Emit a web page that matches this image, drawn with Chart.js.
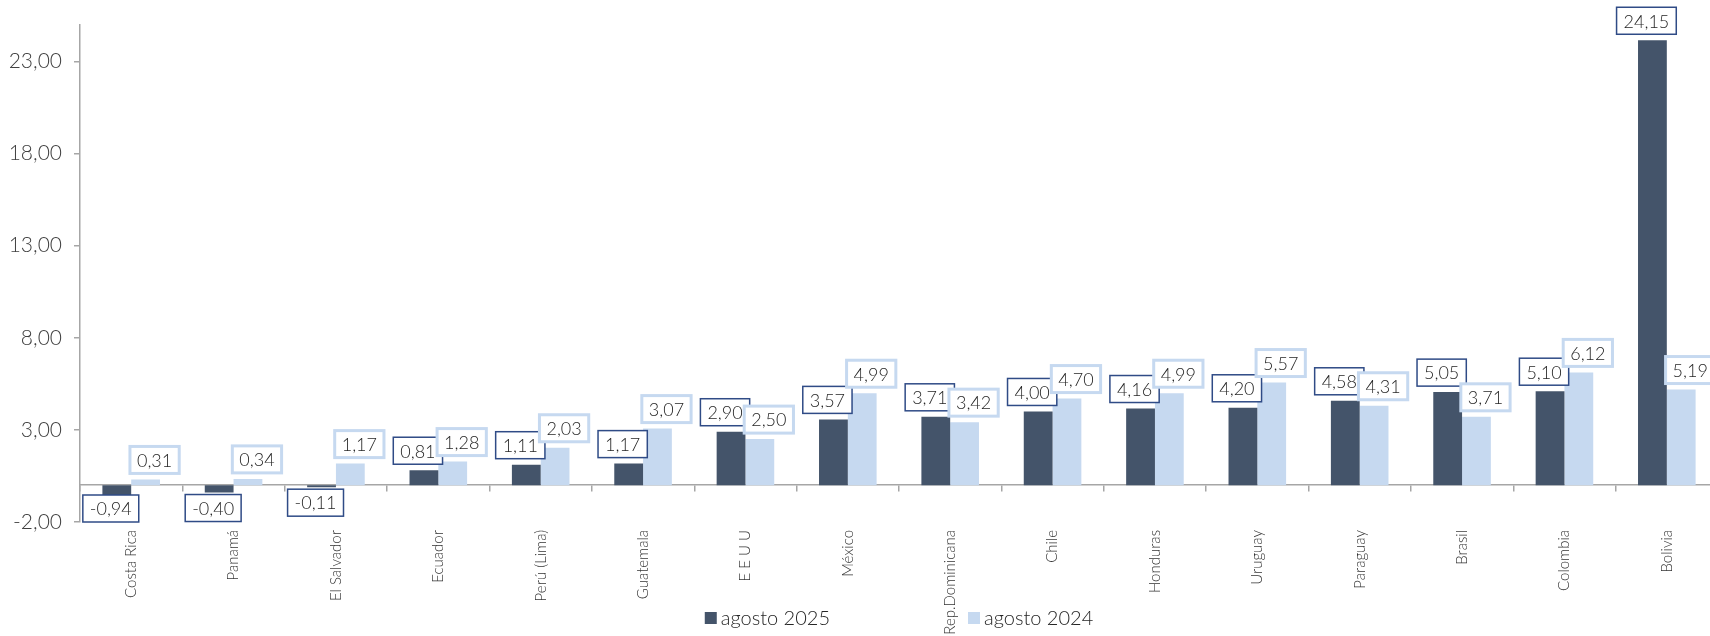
<!DOCTYPE html>
<html>
<head>
<meta charset="utf-8">
<script src="https://cdn.jsdelivr.net/npm/chart.js@4.4.1/dist/chart.umd.min.js"></script>
<style>
  html, body { margin: 0; padding: 0; background: #fff; overflow: hidden; }
  #wrap { position: relative; width: 1718px; height: 636px; }
</style>
</head>
<body>
<div id="wrap"><canvas id="inflChart"></canvas></div>
<script>
// data
const countries = ["Costa Rica", "Panamá", "El Salvador", "Ecuador", "Perú (Lima)", "Guatemala", "E E U U", "México",
  "Rep.Dominicana", "Chile", "Honduras", "Uruguay", "Paraguay", "Brasil", "Colombia", "Bolivia"];
const aug2025 = [-0.94, -0.40, -0.11, 0.81, 1.11, 1.17, 2.90, 3.57, 3.71, 4.00, 4.16, 4.20, 4.58, 5.05, 5.10, 24.15];
const aug2024 = [0.31, 0.34, 1.17, 1.28, 2.03, 3.07, 2.50, 4.99, 3.42, 4.70, 4.99, 5.57, 4.31, 3.71, 6.12, 5.19];
const yTicks = [-2, 3, 8, 13, 18, 23];

const DARK = "#44546A";
const LIGHT = "#C6D9F0";
const AXIS = "#A6A6A6";
const FONT = "Lato";
const W = 300;

const fmt = v => v.toFixed(2).replace(".", ",");

// value boxes (Excel style callouts) + legend
const labelPlugin = {
  id: "valueBoxes",
  afterDatasetsDraw(chart) {
    const { ctx, chartArea } = chart;
    const styles = [
      { dx: -6, border: "#2F4B86", lw: 1.5 },
      { dx: 9, border: "#C6D9F0", lw: 3 }
    ];
    ctx.save();
    ctx.font = W + " 18px " + FONT;
    ctx.textAlign = "center";
    ctx.textBaseline = "middle";
    chart.data.datasets.forEach((ds, di) => {
      const st = styles[di];
      chart.getDatasetMeta(di).data.forEach((bar, i) => {
        const v = ds.data[i];
        const txt = fmt(v);
        const w = ctx.measureText(txt).width + 14;
        const h = 27;
        const cx = bar.x + st.dx;
        let top;
        if (v >= 0) {
          top = bar.y - 6 - h;
          if (top < 7) top = 7;
        } else {
          top = bar.y + 2;
          if (top + h > chartArea.bottom) top = chartArea.bottom - h;
        }
        ctx.fillStyle = "#fff";
        ctx.fillRect(cx - w / 2, top, w, h);
        ctx.strokeStyle = st.border;
        ctx.lineWidth = st.lw;
        ctx.strokeRect(cx - w / 2, top, w, h);
        ctx.fillStyle = "#262626";
        ctx.fillText(txt, cx, top + h / 2 + 1);
      });
    });
    ctx.restore();
  },
  afterDraw(chart) {
    const { ctx, chartArea } = chart;
    ctx.save();
    ctx.font = W + " 20px " + FONT;
    ctx.textBaseline = "middle";
    ctx.textAlign = "left";
    const box = 12, sp = 4, gap = 138;
    const items = chart.data.datasets.map(d => ({ text: d.label, color: d.backgroundColor, tw: ctx.measureText(d.label).width }));
    const total = items.reduce((s, it) => s + box + sp + it.tw, 0) + gap * (items.length - 1);
    let x = (chartArea.left + chartArea.right) / 2 - total / 2;
    const y = 618;
    items.forEach(it => {
      ctx.fillStyle = it.color;
      ctx.fillRect(x, y - box / 2, box, box);
      ctx.fillStyle = "#262626";
      ctx.fillText(it.text, x + box + sp, y + 1);
      x += box + sp + it.tw + gap;
    });
    ctx.restore();
  }
};

new Chart(document.getElementById("inflChart"), {
  type: "bar",
  data: {
    labels: countries,
    datasets: [
      { label: "agosto 2025", data: aug2025, backgroundColor: DARK },
      { label: "agosto 2024", data: aug2024, backgroundColor: LIGHT }
    ]
  },
  options: {
    responsive: true,
    maintainAspectRatio: false,
    animation: false,
    categoryPercentage: 0.5625,
    barPercentage: 1,
    layout: { padding: { top: 17, left: 0, right: 0, bottom: 0 } },
    plugins: {
      legend: { display: false },
      tooltip: { enabled: false }
    },
    scales: {
      x: {
        type: "category",
        position: "bottom",
        grid: { display: false, drawTicks: false },
        border: { display: false },
        ticks: {
          autoSkip: false,
          maxRotation: 90,
          minRotation: 90,
          padding: 8,
          color: "#333333",
          font: { family: FONT, size: 15, weight: W }
        },
        afterFit: s => { s.height = 114; }
      },
      xz: {
        type: "category",
        position: { y: 0 },
        offset: true,
        ticks: { display: false },
        grid: { offset: true, drawOnChartArea: false, tickLength: 6, color: AXIS, lineWidth: 1.5 },
        border: { color: AXIS, width: 1.5 }
      },
      y: {
        min: -2,
        max: 25,
        afterBuildTicks: s => { s.ticks = yTicks.map(v => ({ value: v })); },
        grid: { drawOnChartArea: false, tickLength: 6, color: AXIS, lineWidth: 1.5 },
        border: { color: AXIS, width: 1.5 },
        ticks: {
          padding: 12,
          color: "#404040",
          font: { family: FONT, size: 21, weight: W },
          callback: v => fmt(v)
        },
        afterFit: s => { s.width = 80; }
      }
    }
  },
  plugins: [labelPlugin]
});
</script>
</body>
</html>
